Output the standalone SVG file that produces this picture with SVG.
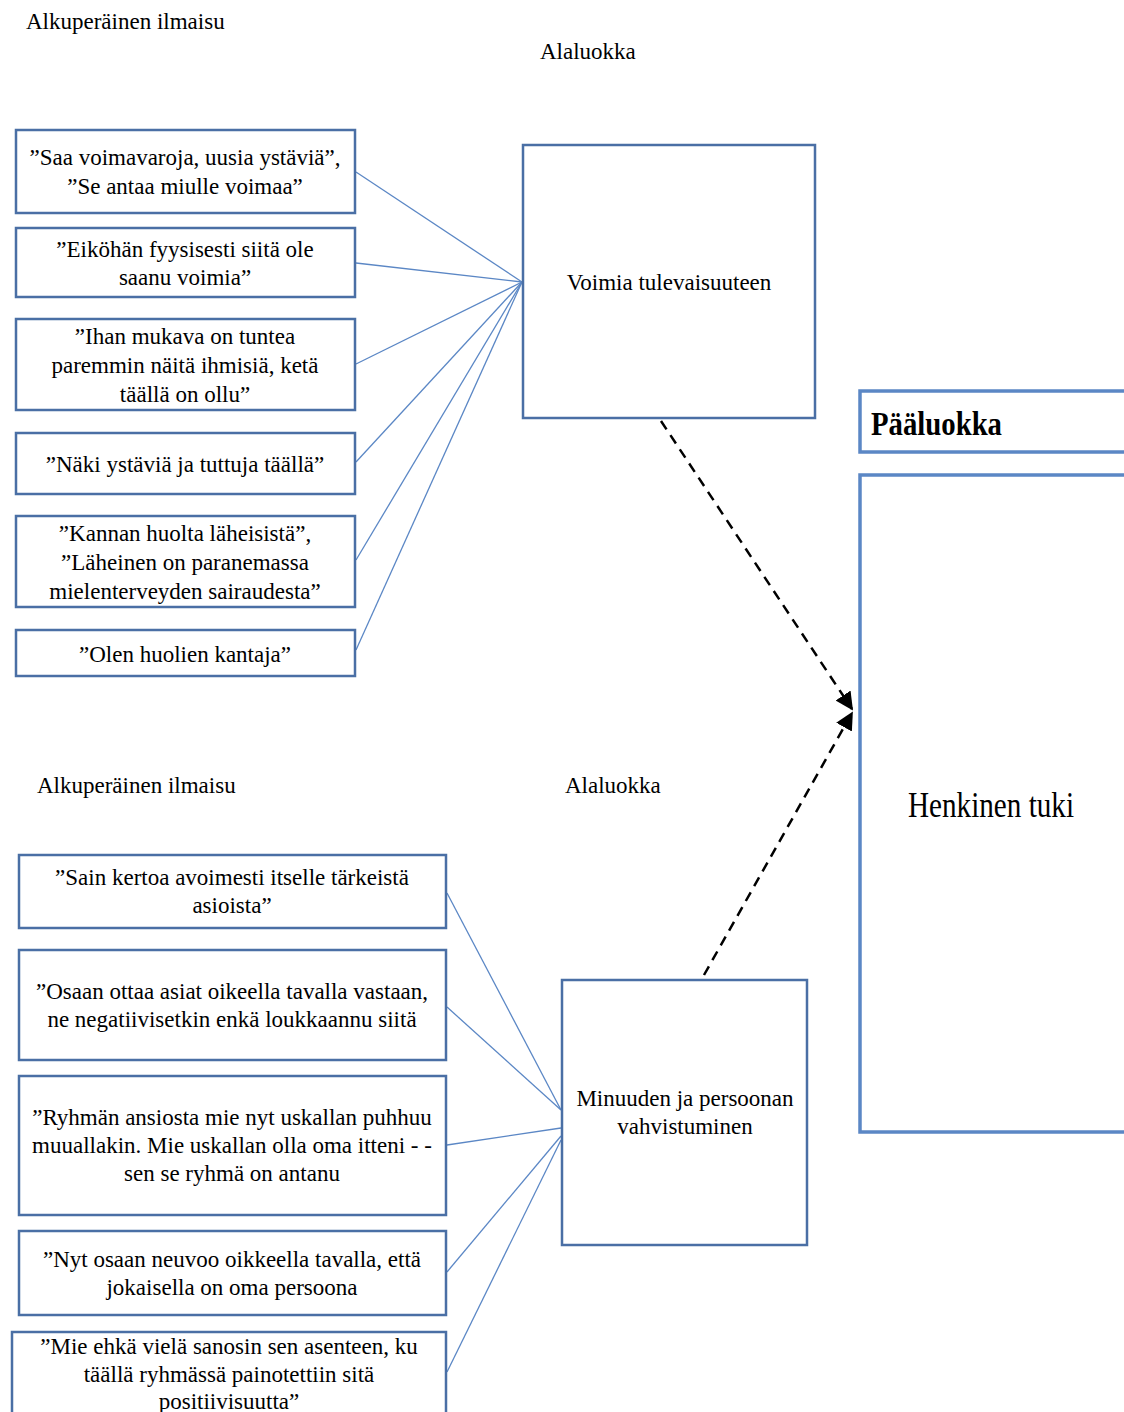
<svg xmlns="http://www.w3.org/2000/svg" width="1124" height="1412" viewBox="0 0 1124 1412">
<style>
text{font-family:"Liberation Serif","Times New Roman",serif;fill:#000;}
.t{font-size:23px;text-anchor:middle;}
.h{font-size:23px;}
.box{fill:#fff;stroke:#4a6fa5;stroke-width:2.5;}
.bigbox{fill:#fff;stroke:#5b87c5;stroke-width:3.5;}
.ln{stroke:#5b87c5;stroke-width:1.3;fill:none;}
.dash{stroke:#000;stroke-width:2.5;stroke-dasharray:10,7;fill:none;}
</style>
<defs>
<marker id="ahb" viewBox="0 0 10 10" refX="9" refY="5" markerWidth="18" markerHeight="18" markerUnits="userSpaceOnUse" orient="auto">
<path d="M0,0 L10,5 L0,10 z" fill="#000"/>
</marker>
</defs>
<rect width="1124" height="1412" fill="#fff"/>
<text class="h" x="26" y="29">Alkuperäinen ilmaisu</text>
<text class="h" x="540" y="59">Alaluokka</text>
<text class="h" x="37" y="793">Alkuperäinen ilmaisu</text>
<text class="h" x="565" y="793">Alaluokka</text>
<g id="connectors">
<line class="ln" x1="356" y1="172" x2="522" y2="282"/>
<line class="ln" x1="356" y1="263" x2="522" y2="282"/>
<line class="ln" x1="356" y1="364" x2="522" y2="282"/>
<line class="ln" x1="356" y1="462" x2="522" y2="282"/>
<line class="ln" x1="356" y1="560" x2="522" y2="282"/>
<line class="ln" x1="356" y1="650" x2="522" y2="282"/>
<line class="ln" x1="447" y1="893" x2="561" y2="1110"/>
<line class="ln" x1="447" y1="1007" x2="561" y2="1110"/>
<line class="ln" x1="447" y1="1145" x2="561" y2="1128"/>
<line class="ln" x1="447" y1="1272" x2="561" y2="1136"/>
<line class="ln" x1="447" y1="1372" x2="561" y2="1140"/>
<line class="dash" x1="661" y1="421" x2="852" y2="709" marker-end="url(#ahb)"/>
<line class="dash" x1="704" y1="975" x2="852" y2="713" marker-end="url(#ahb)"/>
</g>
<g id="q1"><rect class="box" x="16" y="130" width="339" height="83"/>
<text class="t" x="185" y="165">”Saa voimavaroja, uusia ystäviä”,</text>
<text class="t" x="185" y="194">”Se antaa miulle voimaa”</text></g>
<g id="q2"><rect class="box" x="16" y="228" width="339" height="69"/>
<text class="t" x="185" y="257">”Eiköhän fyysisesti siitä ole</text>
<text class="t" x="185" y="285">saanu voimia”</text></g>
<g id="q3"><rect class="box" x="16" y="319" width="339" height="91"/>
<text class="t" x="185" y="344">”Ihan mukava on tuntea</text>
<text class="t" x="185" y="373">paremmin näitä ihmisiä, ketä</text>
<text class="t" x="185" y="402">täällä on ollu”</text></g>
<g id="q4"><rect class="box" x="16" y="433" width="339" height="61"/>
<text class="t" x="185" y="472">”Näki ystäviä ja tuttuja täällä”</text></g>
<g id="q5"><rect class="box" x="16" y="516" width="339" height="91"/>
<text class="t" x="185" y="541">”Kannan huolta läheisistä”,</text>
<text class="t" x="185" y="570">”Läheinen on paranemassa</text>
<text class="t" x="185" y="599">mielenterveyden sairaudesta”</text></g>
<g id="q6"><rect class="box" x="16" y="630" width="339" height="46"/>
<text class="t" x="185" y="662">”Olen huolien kantaja”</text></g>
<g id="voimia"><rect class="box" x="523" y="145" width="292" height="273"/>
<text class="t" x="669" y="290">Voimia tulevaisuuteen</text></g>
<g id="paaluokka"><rect class="bigbox" x="860" y="391" width="270" height="61"/>
<text x="871" y="435" textLength="131" lengthAdjust="spacingAndGlyphs" style="font-size:33px;font-weight:bold;">Pääluokka</text></g>
<g id="henkinen"><rect class="bigbox" x="860" y="475" width="270" height="657"/>
<text x="908" y="817" textLength="166" lengthAdjust="spacingAndGlyphs" style="font-size:36px;">Henkinen tuki</text></g>
<g id="r1"><rect class="box" x="19" y="855" width="427" height="73"/>
<text class="t" x="232" y="885">”Sain kertoa avoimesti itselle tärkeistä</text>
<text class="t" x="232" y="913">asioista”</text></g>
<g id="r2"><rect class="box" x="19" y="950" width="427" height="110"/>
<text class="t" x="232" y="999">”Osaan ottaa asiat oikeella tavalla vastaan,</text>
<text class="t" x="232" y="1027">ne negatiivisetkin enkä loukkaannu siitä</text></g>
<g id="r3"><rect class="box" x="19" y="1076" width="427" height="139"/>
<text class="t" x="232" y="1125">”Ryhmän ansiosta mie nyt uskallan puhhuu</text>
<text class="t" x="232" y="1153">muuallakin. Mie uskallan olla oma itteni - -</text>
<text class="t" x="232" y="1181">sen se ryhmä on antanu</text></g>
<g id="r4"><rect class="box" x="19" y="1231" width="427" height="84"/>
<text class="t" x="232" y="1267">”Nyt osaan neuvoo oikkeella tavalla, että</text>
<text class="t" x="232" y="1295">jokaisella on oma persoona</text></g>
<g id="r5"><rect class="box" x="12" y="1332" width="434" height="90"/>
<text class="t" x="229" y="1354">”Mie ehkä vielä sanosin sen asenteen, ku</text>
<text class="t" x="229" y="1382">täällä ryhmässä painotettiin sitä</text>
<text class="t" x="229" y="1409">positiivisuutta”</text></g>
<g id="minuuden"><rect class="box" x="562" y="980" width="245" height="265"/>
<text class="t" x="685" y="1106">Minuuden ja persoonan</text>
<text class="t" x="685" y="1134">vahvistuminen</text></g>
</svg>
